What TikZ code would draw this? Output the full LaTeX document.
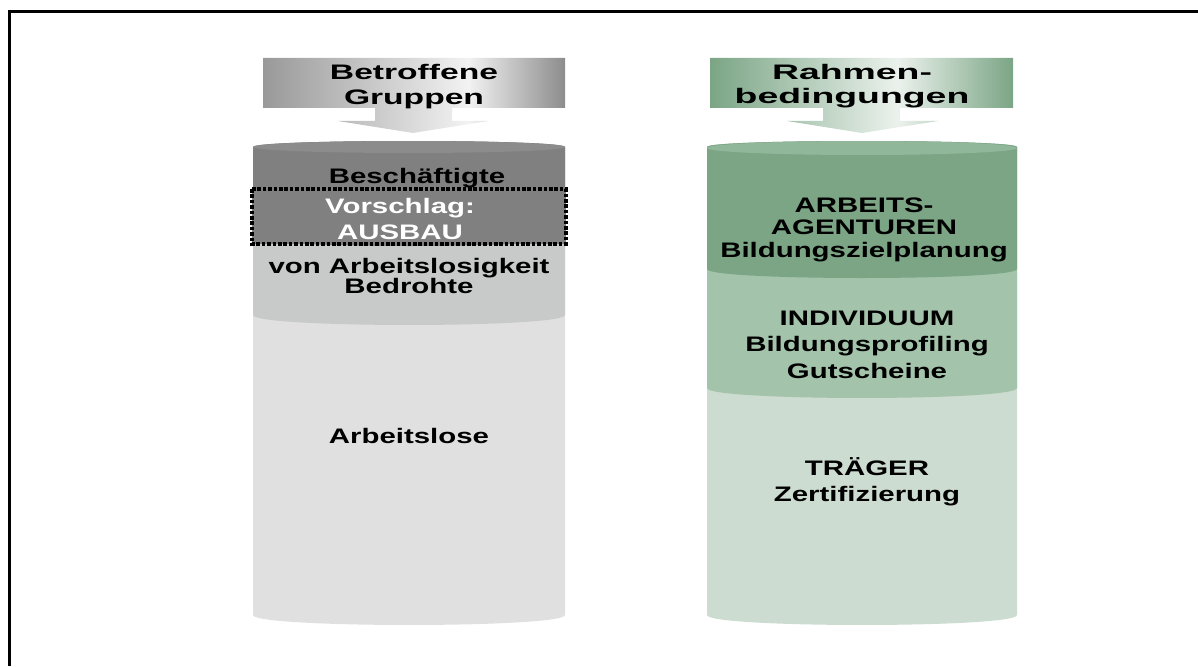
\documentclass[tikz,border=0pt]{standalone}
\usepackage{fontspec}
\newfontfamily\bodyfont[FakeStretch=1.4]{Liberation Sans}
\newfontfamily\lheadfont[FakeStretch=1.6]{Liberation Sans}
\newfontfamily\rheadfont[FakeStretch=1.78]{Liberation Sans}

\definecolor{gDark}{HTML}{808080}
\definecolor{gTop}{HTML}{8C8C8C}
\definecolor{gMid}{HTML}{C8C9C9}
\definecolor{gLight}{HTML}{E0E0E0}
\definecolor{vDark}{HTML}{7BA585}
\definecolor{vTop}{HTML}{91B79B}
\definecolor{vMid}{HTML}{A3C3AA}
\definecolor{vLight}{HTML}{CDDCD0}

\pgfdeclarehorizontalshading{grayhead}{100bp}{color(0bp)=(gray!80); color(25bp)=(gray!80);
  color(59bp)=(white!95!black); color(75bp)=(gray!90); color(100bp)=(gray!90)}
\pgfdeclarehorizontalshading{greenhead}{100bp}{color(0bp)=(vDark); color(25bp)=(vDark);
  color(56bp)=(vDark!15); color(75bp)=(vDark); color(100bp)=(vDark)}

\tikzset{
  txt/.style={font=\bodyfont\bfseries\fontsize{21}{#1}\selectfont, align=center, inner sep=0pt, anchor=base},
  txt/.default=25,
  lhead/.style={txt, font=\lheadfont\bfseries\fontsize{21}{25}\selectfont},
  rhead/.style={txt, font=\rheadfont\bfseries\fontsize{21}{24}\selectfont}
}

\begin{document}
\begin{tikzpicture}[x=1pt, y=-1pt]
\useasboundingbox (0,0) rectangle (1198,666);
\draw[line width=2.7pt] (9.3,666) -- (9.3,11.3) -- (1198,11.3);

% left header
\shade[shading=grayhead] (263,58) -- (565,58) -- (565,108) -- (452,108) -- (452,121) -- (488,121) -- (413,133)
  -- (338,121) -- (375,121) -- (375,108) -- (263,108) -- cycle;
\node[lhead] (gruppen) at (414,105) {Betroffene\\Gruppen};

% right header
\shade[shading=greenhead] (710,58) -- (1013,58) -- (1013,108) -- (900,108) -- (900,121) -- (938,121) -- (862,133)
  -- (787,121) -- (823,121) -- (823,108) -- (710,108) -- cycle;
\node[rhead] (rahmen) at (852,103) {Rahmen-\\bedingungen};

% left cylinder
\fill[gLight] (253,147) .. controls (253,139) and (565,139) .. (565,147) -- (565,615)
  .. controls (565,628.3) and (253,628.3) .. (253,615) -- cycle;
\fill[gMid] (253,147) .. controls (253,139) and (565,139) .. (565,147) -- (565,315)
  .. controls (565,328.3) and (253,328.3) .. (253,315) -- cycle;
\fill[gDark] (253,147) .. controls (253,139) and (565,139) .. (565,147) -- (565,237)
  .. controls (565,249) and (253,249) .. (253,237) -- cycle;
\fill[gTop] (409,147) ellipse [x radius=156, y radius=6];
\fill[gDark] (252,189) rectangle (566,244);
\draw[line width=4pt, dash pattern=on 3.6pt off 1.8pt] (252,189) rectangle (566,244);

\node[txt] (beschaeftigte) at (417,183) {Beschäftigte};
\node[txt=26, text=white] (vorschlag) at (400,239) {Vorschlag:\\AUSBAU};
\node[txt=20] (bedrohte) at (409,293) {von Arbeitslosigkeit\\Bedrohte};
\node[txt] (arbeitslose) at (409,443) {Arbeitslose};

% right cylinder
\fill[vLight] (707,147) .. controls (707,139) and (1017,139) .. (1017,147) -- (1017,615)
  .. controls (1017,628.3) and (707,628.3) .. (707,615) -- cycle;
\fill[vMid] (707,147) .. controls (707,139) and (1017,139) .. (1017,147) -- (1017,388)
  .. controls (1017,401.3) and (707,401.3) .. (707,388) -- cycle;
\fill[vDark] (707,147) .. controls (707,139) and (1017,139) .. (1017,147) -- (1017,269)
  .. controls (1017,281) and (707,281) .. (707,269) -- cycle;
\fill[vTop] (862,148) ellipse [x radius=155, y radius=7];

\node[txt=22.5] (agenturen) at (864,257) {ARBEITS-\\AGENTUREN\\Bildungszielplanung};
\node[txt=26.5] (individuum) at (867,378) {INDIVIDUUM\\Bildungsprofiling\\Gutscheine};
\node[txt=26] (traeger) at (867,501) {TRÄGER\\Zertifizierung};
\end{tikzpicture}
\end{document}
